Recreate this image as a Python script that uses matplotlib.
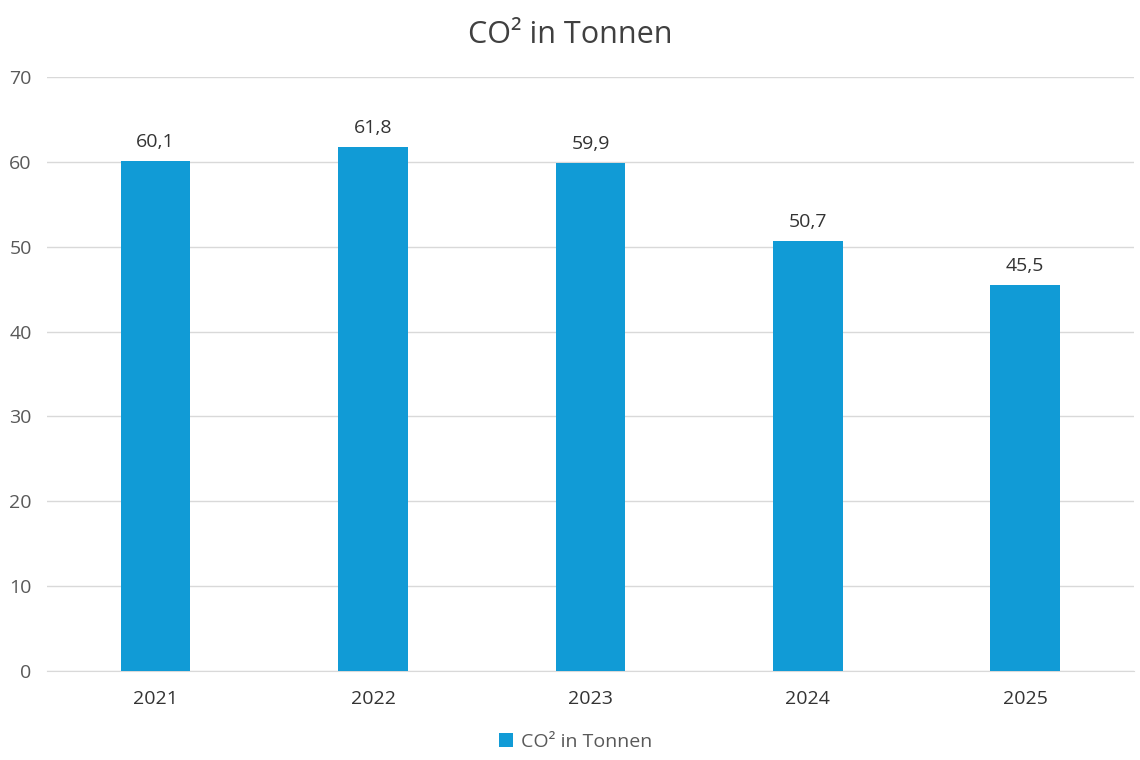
import matplotlib
matplotlib.use('Agg')
import matplotlib.pyplot as plt
import numpy as np

years = ['2021', '2022', '2023', '2024', '2025']
co2_tonnen = [60.1, 61.8, 59.9, 50.7, 45.5]
y_ticks = [0, 10, 20, 30, 40, 50, 60, 70]

bar_color = '#119BD6'
text_color = '#333333'
tick_color = '#595959'
grid_color = '#D9D9D9'

plt.rcParams['font.family'] = ['Open Sans', 'DejaVu Sans']

fig = plt.figure(figsize=(11.4, 7.6), dpi=100)
ax = fig.add_axes([0.0412, 0.1171, 0.9535, 0.7816])

x = np.arange(len(years))
bars = ax.bar(x, co2_tonnen, width=0.32, color=bar_color, zorder=3, label='CO² in Tonnen')

# Werte über den Balken, deutsches Dezimalkomma
for rect, val in zip(bars, co2_tonnen):
    ax.annotate(f'{val:.1f}'.replace('.', ','),
                (rect.get_x() + rect.get_width() / 2, rect.get_height()),
                xytext=(0, 7), textcoords='offset points',
                ha='center', va='bottom', fontsize=14, color=text_color)

ax.set_xlim(-0.5, len(years) - 0.5)
ax.set_ylim(0, 70)
ax.set_yticks(y_ticks)
ax.set_yticklabels([str(t) for t in y_ticks], fontsize=14, color=tick_color)
ax.set_xticks(x)
ax.set_xticklabels(years, fontsize=14, color=text_color)
ax.tick_params(axis='both', length=0)
ax.tick_params(axis='y', pad=11)
ax.tick_params(axis='x', pad=14)

ax.grid(axis='y', color=grid_color, linewidth=1, zorder=0)
for side in ['top', 'right', 'left']:
    ax.spines[side].set_visible(False)
ax.spines['bottom'].set_color(grid_color)

fig.text(0.5, 0.954, 'CO² in Tonnen', ha='center', va='center', fontsize=22, color='#404040')

fig.legend(handles=[bars], labels=['CO² in Tonnen'], loc='center', bbox_to_anchor=(0.505, 0.024),
           frameon=False, fontsize=14, handlelength=0.7, handleheight=0.7, handletextpad=0.4,
           labelcolor=tick_color)

fig.savefig('out.png', dpi=100)
